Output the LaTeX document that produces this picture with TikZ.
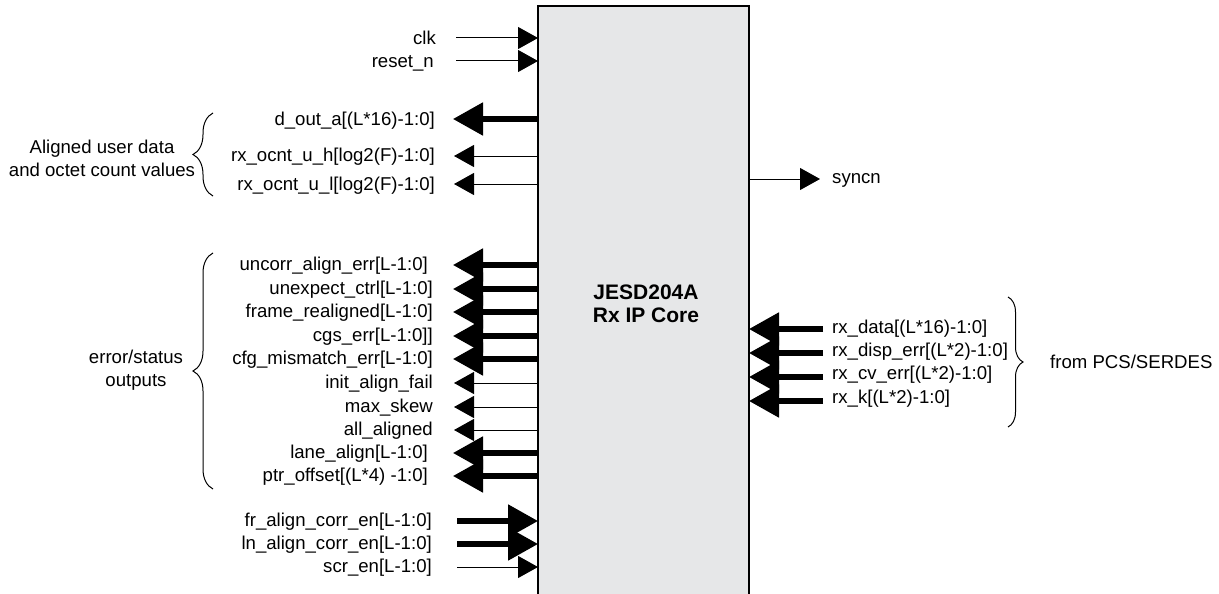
\documentclass[tikz,border=0pt]{standalone}
\usepackage{fontspec}
\setmainfont{Liberation Sans}
\usetikzlibrary{arrows.meta,decorations.pathreplacing}
\definecolor{coregray}{HTML}{E6E7E8}
\newcommand\lab{\fontsize{18.6}{23}\selectfont}
\newcommand\ttl{\bfseries\fontsize{21}{23}\selectfont}
\tikzset{
  lbl/.style={font=\lab, anchor=base east, inner sep=0pt},
  rlbl/.style={font=\lab, anchor=base west, inner sep=0pt},
  grp/.style={font=\lab, align=center, inner sep=0pt},
  core/.style={draw=black, line width=1.2pt, fill=coregray, minimum width=211pt, minimum height=604pt, inner sep=0pt, outer sep=0pt},
  thinarr/.style={line width=1pt, -{Triangle[length=20pt,width=22pt]}},
  thickarr/.style={line width=5.3pt, -{Triangle[length=30pt,width=32pt]}},
  bracestyle/.style={line width=1pt, decorate, decoration={brace, amplitude=#1}},
}
\begin{document}
\begin{tikzpicture}[x=1pt, y=-1pt]
\useasboundingbox (0,0) rectangle (1219,594);
\node[core] (core) at (643.5,308) {};
\node[font=\ttl, align=center, inner sep=0pt] (title) at (646,303.5) {JESD204A\\Rx IP Core};

% ---- left labels
\node[lbl] (clk) at (436,44.5) {clk};
\node[lbl] (rst) at (434,67.5) {reset\_n};
\node[lbl] (dout) at (435,125.5) {d\_out\_a[(L*16)-1:0]};
\node[lbl] (ocnth) at (435,161.5) {rx\_ocnt\_u\_h[log2(F)-1:0]};
\node[lbl] (ocntl) at (435,190.5) {rx\_ocnt\_u\_l[log2(F)-1:0]};
\node[lbl] (uncorr) at (428,270.5) {uncorr\_align\_err[L-1:0]};
\node[lbl] (unexp) at (433,294.5) {unexpect\_ctrl[L-1:0]};
\node[lbl] (frame) at (433,317.5) {frame\_realigned[L-1:0]};
\node[lbl] (cgs) at (433,341.5) {cgs\_err[L-1:0]]};
\node[lbl] (cfg) at (433,364.5) {cfg\_mismatch\_err[L-1:0]};
\node[lbl] (init) at (433,388.5) {init\_align\_fail};
\node[lbl] (maxs) at (433,412.5) {max\_skew};
\node[lbl] (alla) at (433,435.5) {all\_aligned};
\node[lbl] (lane) at (428,458.5) {lane\_align[L-1:0]};
\node[lbl] (ptr) at (428,481.5) {ptr\_offset[(L*4) -1:0]};
\node[lbl] (fr) at (432,526.5) {fr\_align\_corr\_en[L-1:0]};
\node[lbl] (ln) at (432,549.5) {ln\_align\_corr\_en[L-1:0]};
\node[lbl] (scr) at (432,572.5) {scr\_en[L-1:0]};

% ---- right labels
\node[rlbl] (sync) at (832,183.5) {syncn};
\node[rlbl] (rxd) at (832,333.5) {rx\_data[(L*16)-1:0]};
\node[rlbl] (rxdisp) at (832,356.5) {rx\_disp\_err[(L*2)-1:0]};
\node[rlbl] (rxcv) at (832,379.5) {rx\_cv\_err[(L*2)-1:0]};
\node[rlbl] (rxk) at (832,403.5) {rx\_k[(L*2)-1:0]};

% ---- group labels
\node[grp] (g1) at (102,158.5) {Aligned user data\\and octet count values};
\node[grp] (g2) at (136,370.5) {error/status\\outputs};
\node[rlbl] (g3) at (1050,368.5) {from PCS/SERDES};

% ---- connector end coordinates
\coordinate (c-clk) at (456,38);
\coordinate (c-rst) at (456,61);
\coordinate (c-dout) at (453,119);
\coordinate (c-ocnth) at (454,156);
\coordinate (c-ocntl) at (454,184);
\coordinate (c-uncorr) at (453,265);
\coordinate (c-unexp) at (453,289);
\coordinate (c-frame) at (453,312);
\coordinate (c-cgs) at (453,336);
\coordinate (c-cfg) at (453,359);
\coordinate (c-init) at (454,383);
\coordinate (c-maxs) at (454,407);
\coordinate (c-alla) at (454,430);
\coordinate (c-lane) at (453,453);
\coordinate (c-ptr) at (453,476);
\coordinate (c-fr) at (457,521);
\coordinate (c-ln) at (457,544);
\coordinate (c-scr) at (457,567);
\coordinate (c-sync) at (820,179);
\coordinate (c-rxd) at (823,329);
\coordinate (c-rxdisp) at (823,353);
\coordinate (c-rxcv) at (823,377);
\coordinate (c-rxk) at (823,401);

% ---- inputs (left)
\draw[thinarr] (c-clk) -- (c-clk -| core.west);
\draw[thinarr] (c-rst) -- (c-rst -| core.west);
\draw[thickarr] (c-fr) -- (c-fr -| core.west);
\draw[thickarr] (c-ln) -- (c-ln -| core.west);
\draw[thinarr] (c-scr) -- (c-scr -| core.west);

% ---- outputs (left)
\draw[thickarr] (c-dout -| core.west) -- (c-dout);
\draw[thinarr] (c-ocnth -| core.west) -- (c-ocnth);
\draw[thinarr] (c-ocntl -| core.west) -- (c-ocntl);
\draw[thickarr] (c-uncorr -| core.west) -- (c-uncorr);
\draw[thickarr] (c-unexp -| core.west) -- (c-unexp);
\draw[thickarr] (c-frame -| core.west) -- (c-frame);
\draw[thickarr] (c-cgs -| core.west) -- (c-cgs);
\draw[thickarr] (c-cfg -| core.west) -- (c-cfg);
\draw[thinarr] (c-init -| core.west) -- (c-init);
\draw[thinarr] (c-maxs -| core.west) -- (c-maxs);
\draw[thinarr] (c-alla -| core.west) -- (c-alla);
\draw[thickarr] (c-lane -| core.west) -- (c-lane);
\draw[thickarr] (c-ptr -| core.west) -- (c-ptr);

% ---- right side
\draw[thinarr] (c-sync -| core.east) -- (c-sync);
\draw[thickarr] (c-rxd) -- (c-rxd -| core.east);
\draw[thickarr] (c-rxdisp) -- (c-rxdisp -| core.east);
\draw[thickarr] (c-rxcv) -- (c-rxcv -| core.east);
\draw[thickarr] (c-rxk) -- (c-rxk -| core.east);

% ---- braces
\coordinate (b1s) at (213,196);
\coordinate (b1e) at (213,113);
\coordinate (b2s) at (213,489);
\coordinate (b2e) at (213,253);
\coordinate (b3s) at (1008,297);
\coordinate (b3e) at (1008,427);
\draw[bracestyle=20pt] (b1s) -- (b1e);
\draw[bracestyle=20pt] (b2s) -- (b2e);
\draw[bracestyle=15pt] (b3s) -- (b3e);
\end{tikzpicture}
\end{document}
